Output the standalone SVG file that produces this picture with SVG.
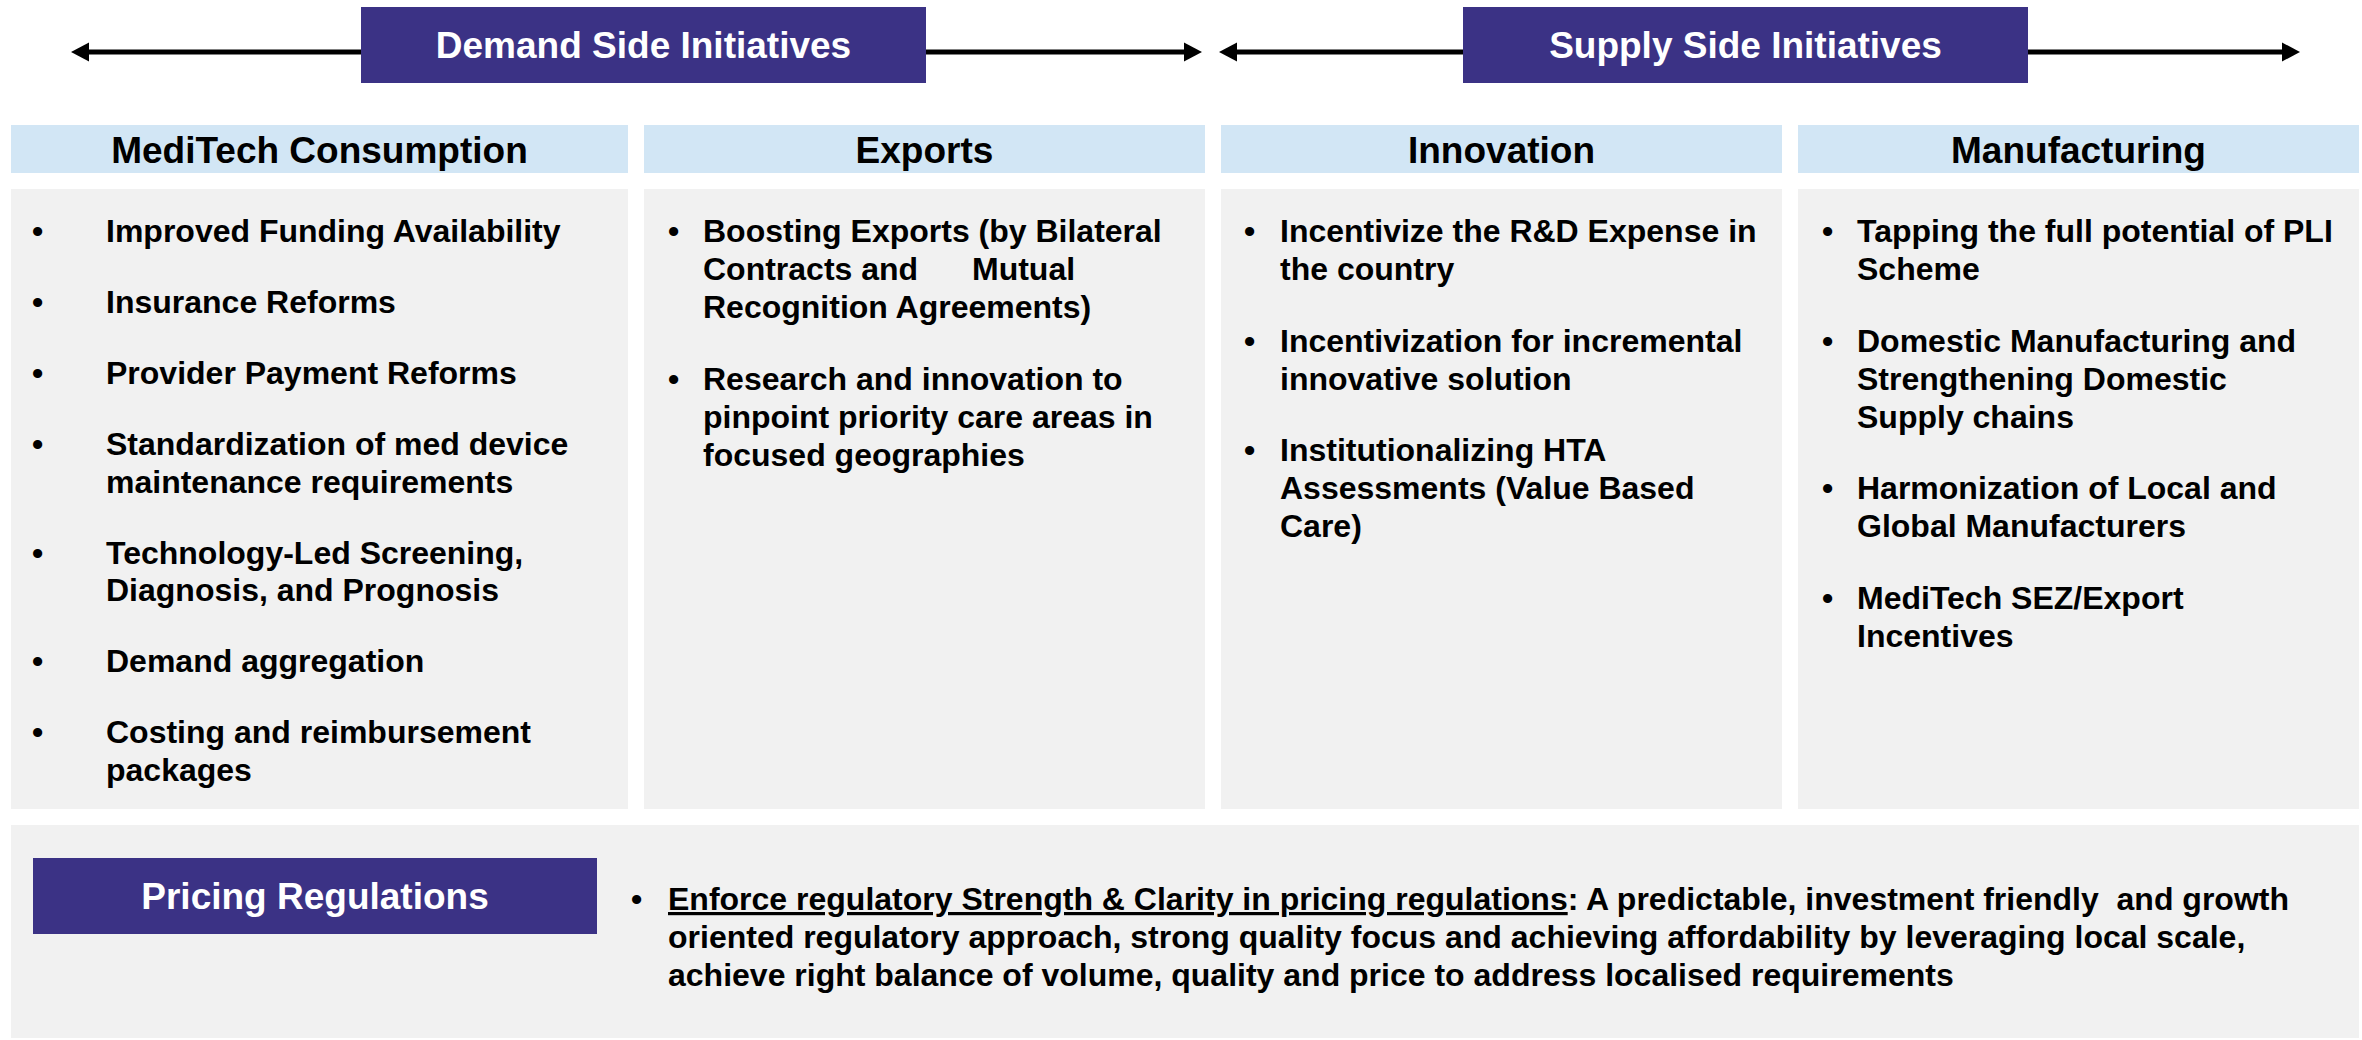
<svg xmlns="http://www.w3.org/2000/svg" width="2362" height="1040" viewBox="0 0 2362 1040">
<defs>
<style>
.band{fill:#3B3285}
.bandtxt{font-family:"Liberation Sans",Arial,sans-serif;font-weight:bold;font-size:37px;fill:#FFFFFF;text-anchor:middle}
.hdr{fill:#D2E6F5}
.hdrtxt{font-family:"Liberation Sans",Arial,sans-serif;font-weight:bold;font-size:37px;fill:#000000;text-anchor:middle}
.body{fill:#F1F1F1}
.txt{font-family:"Liberation Sans",Arial,sans-serif;font-weight:bold;font-size:32px;fill:#000000;white-space:pre}
.conn{stroke:#000000;stroke-width:5;fill:none}
</style>
<marker id="ah" markerUnits="userSpaceOnUse" markerWidth="18" markerHeight="20" refX="0" refY="10" orient="auto-start-reverse" viewBox="0 0 18 20">
<path d="M0,0.5 L18,10 L0,19.5 z" fill="#000000"/>
</marker>
</defs>
<rect width="2362" height="1040" fill="#FFFFFF"/>

<g id="connectors">
<path class="conn" d="M89,52 H1184" marker-start="url(#ah)" marker-end="url(#ah)"/>
<path class="conn" d="M1237,52 H2282" marker-start="url(#ah)" marker-end="url(#ah)"/>
</g>

<g id="demand-side">
<rect class="band" x="361" y="7" width="565" height="76"/>
<text class="bandtxt" x="643.5" y="58">Demand Side Initiatives</text>
</g>
<g id="supply-side">
<rect class="band" x="1463" y="7" width="565" height="76"/>
<text class="bandtxt" x="1745.5" y="58">Supply Side Initiatives</text>
</g>

<g id="meditech-consumption">
<rect class="hdr" x="11" y="125" width="617" height="48"/>
<text class="hdrtxt" x="319.5" y="163">MediTech Consumption</text>
<rect class="body" x="11" y="189" width="617" height="620"/>
<text class="txt">
<tspan x="32" y="242">•</tspan><tspan x="106" y="242">Improved Funding Availability</tspan>
<tspan x="32" y="313">•</tspan><tspan x="106" y="313">Insurance Reforms</tspan>
<tspan x="32" y="384">•</tspan><tspan x="106" y="384">Provider Payment Reforms</tspan>
<tspan x="32" y="455">•</tspan><tspan x="106" y="455">Standardization of med device</tspan>
<tspan x="106" y="492.5">maintenance requirements</tspan>
<tspan x="32" y="563.5">•</tspan><tspan x="106" y="563.5">Technology-Led Screening,</tspan>
<tspan x="106" y="601">Diagnosis, and Prognosis</tspan>
<tspan x="32" y="672">•</tspan><tspan x="106" y="672">Demand aggregation</tspan>
<tspan x="32" y="743">•</tspan><tspan x="106" y="743">Costing and reimbursement</tspan>
<tspan x="106" y="780.5">packages</tspan>
</text>
</g>

<g id="exports">
<rect class="hdr" x="644" y="125" width="561" height="48"/>
<text class="hdrtxt" x="924.5" y="163">Exports</text>
<rect class="body" x="644" y="189" width="561" height="620"/>
<text class="txt">
<tspan x="668" y="242">•</tspan><tspan x="703" y="242">Boosting Exports (by Bilateral</tspan>
<tspan x="703" y="280">Contracts and</tspan><tspan x="972" y="280">Mutual</tspan>
<tspan x="703" y="318">Recognition Agreements)</tspan>
<tspan x="668" y="389.5">•</tspan><tspan x="703" y="389.5">Research and innovation to</tspan>
<tspan x="703" y="427.5">pinpoint priority care areas in</tspan>
<tspan x="703" y="465.5">focused geographies</tspan>
</text>
</g>

<g id="innovation">
<rect class="hdr" x="1221" y="125" width="561" height="48"/>
<text class="hdrtxt" x="1501.5" y="163">Innovation</text>
<rect class="body" x="1221" y="189" width="561" height="620"/>
<text class="txt">
<tspan x="1244" y="242">•</tspan><tspan x="1280" y="242">Incentivize the R&amp;D Expense in</tspan>
<tspan x="1280" y="280">the country</tspan>
<tspan x="1244" y="351.5">•</tspan><tspan x="1280" y="351.5">Incentivization for incremental</tspan>
<tspan x="1280" y="389.5">innovative solution</tspan>
<tspan x="1244" y="461">•</tspan><tspan x="1280" y="461">Institutionalizing HTA</tspan>
<tspan x="1280" y="499">Assessments (Value Based</tspan>
<tspan x="1280" y="537">Care)</tspan>
</text>
</g>

<g id="manufacturing">
<rect class="hdr" x="1798" y="125" width="561" height="48"/>
<text class="hdrtxt" x="2078.5" y="163">Manufacturing</text>
<rect class="body" x="1798" y="189" width="561" height="620"/>
<text class="txt">
<tspan x="1822" y="242">•</tspan><tspan x="1857" y="242">Tapping the full potential of PLI</tspan>
<tspan x="1857" y="280">Scheme</tspan>
<tspan x="1822" y="351.5">•</tspan><tspan x="1857" y="351.5">Domestic Manufacturing and</tspan>
<tspan x="1857" y="389.5">Strengthening Domestic</tspan>
<tspan x="1857" y="427.5">Supply chains</tspan>
<tspan x="1822" y="499">•</tspan><tspan x="1857" y="499">Harmonization of Local and</tspan>
<tspan x="1857" y="537">Global Manufacturers</tspan>
<tspan x="1822" y="608.5">•</tspan><tspan x="1857" y="608.5">MediTech SEZ/Export</tspan>
<tspan x="1857" y="646.5">Incentives</tspan>
</text>
</g>

<g id="pricing-regulations">
<rect class="body" x="11" y="825" width="2348" height="213"/>
<rect class="band" x="33" y="858" width="564" height="76"/>
<text class="bandtxt" x="315" y="909">Pricing Regulations</text>
<text class="txt">
<tspan x="631" y="910">•</tspan><tspan x="668" y="910"><tspan text-decoration="underline">Enforce regulatory Strength &amp; Clarity in pricing regulations</tspan>: A predictable, investment friendly  and growth</tspan>
<tspan x="668" y="948">oriented regulatory approach, strong quality focus and achieving affordability by leveraging local scale,</tspan>
<tspan x="668" y="986">achieve right balance of volume, quality and price to address localised requirements</tspan>
</text>
</g>
</svg>
